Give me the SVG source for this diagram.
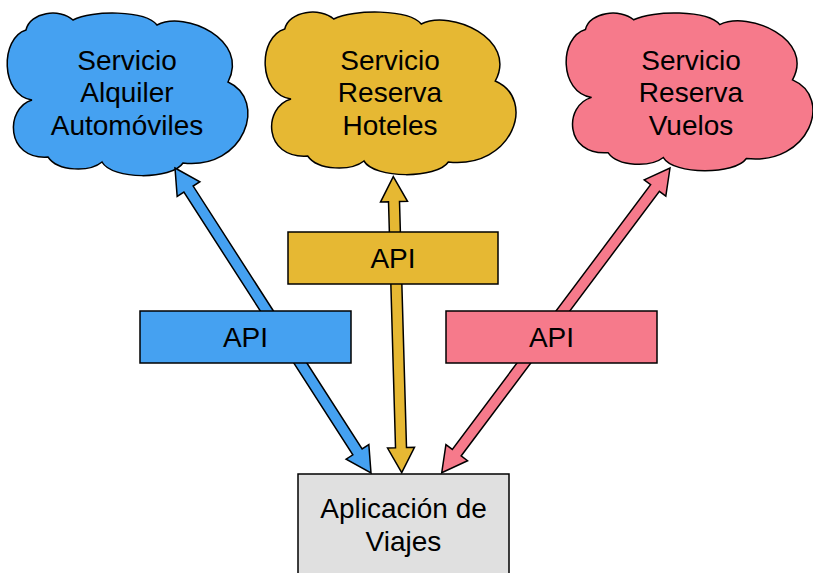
<svg xmlns="http://www.w3.org/2000/svg" xmlns:xlink="http://www.w3.org/1999/xlink" width="813" height="573" viewBox="0 0 813 573">
<style>
.lbl{font-family:"Liberation Sans",Helvetica,Arial,sans-serif;font-size:28px;fill:#000;text-anchor:middle}
.ln{stroke:#000;stroke-width:1.5;stroke-linejoin:miter}
.blue{fill:#45A1F1}
.yellow{fill:#E6B833}
.pink{fill:#F67A8B}
.gray{fill:#E0E0E0}
</style>
<defs>
<path id="cloud" vector-effect="non-scaling-stroke" d="M26,30 C30,12 60,8 73,20 C92,10 145,10 157,25 C185,10 250,40 228,82 C268,100 245,170 183,163 C172,180 112,180 102,162 C90,172 58,172 48,157 C5,160 5,108 32,100 C0,95 0,38 26,30 Z"/>
<polygon id="arrowShape" points="0,0 25,-13.5 25,-5.5 0,-5.5"/>
</defs>
<rect width="813" height="573" fill="#fff"/>
<g id="cloud-autos">
<use xlink:href="#cloud" class="ln blue"/>
<text class="lbl" x="127" y="70">Servicio</text>
<text class="lbl" x="127" y="102">Alquiler</text>
<text class="lbl" x="127" y="135">Automóviles</text>
</g>
<g id="cloud-hoteles">
<use xlink:href="#cloud" class="ln yellow" transform="translate(266,12) scale(1.042,1) translate(-8,-13)"/>
<text class="lbl" x="390" y="70">Servicio</text>
<text class="lbl" x="390" y="102">Reserva</text>
<text class="lbl" x="390" y="135">Hoteles</text>
</g>
<g id="cloud-vuelos">
<use xlink:href="#cloud" class="ln pink" transform="translate(567,13) scale(1.025,0.97) translate(-8,-13)"/>
<text class="lbl" x="691" y="70">Servicio</text>
<text class="lbl" x="691" y="102">Reserva</text>
<text class="lbl" x="691" y="135">Vuelos</text>
</g>
<g id="connectors">
<polygon class="ln blue" transform="translate(175,168) rotate(57.27)" points="0,0 25,-13.5 25,-5.5 337.5,-5.5 337.5,-13.5 362.5,0 337.5,13.5 337.5,5.5 25,5.5 25,13.5"/>
<polygon class="ln yellow" transform="translate(393.3,176.7) rotate(88.37)" points="0,0 25,-13.5 25,-5.5 271.1,-5.5 271.1,-13.5 296.1,0 271.1,13.5 271.1,5.5 25,5.5 25,13.5"/>
<polygon class="ln pink" transform="translate(670,168) rotate(126.84)" points="0,0 25,-13.5 25,-5.5 355.7,-5.5 355.7,-13.5 380.7,0 355.7,13.5 355.7,5.5 25,5.5 25,13.5"/>
</g>
<g id="api-hoteles">
<rect class="ln yellow" x="288" y="232" width="210" height="52"/>
<text class="lbl" x="393" y="268">API</text>
</g>
<g id="api-autos">
<rect class="ln blue" x="140" y="311" width="211" height="52"/>
<text class="lbl" x="245.5" y="347">API</text>
</g>
<g id="api-vuelos">
<rect class="ln pink" x="446" y="311" width="211" height="52"/>
<text class="lbl" x="551.5" y="347">API</text>
</g>
<g id="app">
<rect class="ln gray" x="298" y="474" width="211" height="110"/>
<text class="lbl" x="403.5" y="518">Aplicación de</text>
<text class="lbl" x="403.5" y="551">Viajes</text>
</g>
</svg>
